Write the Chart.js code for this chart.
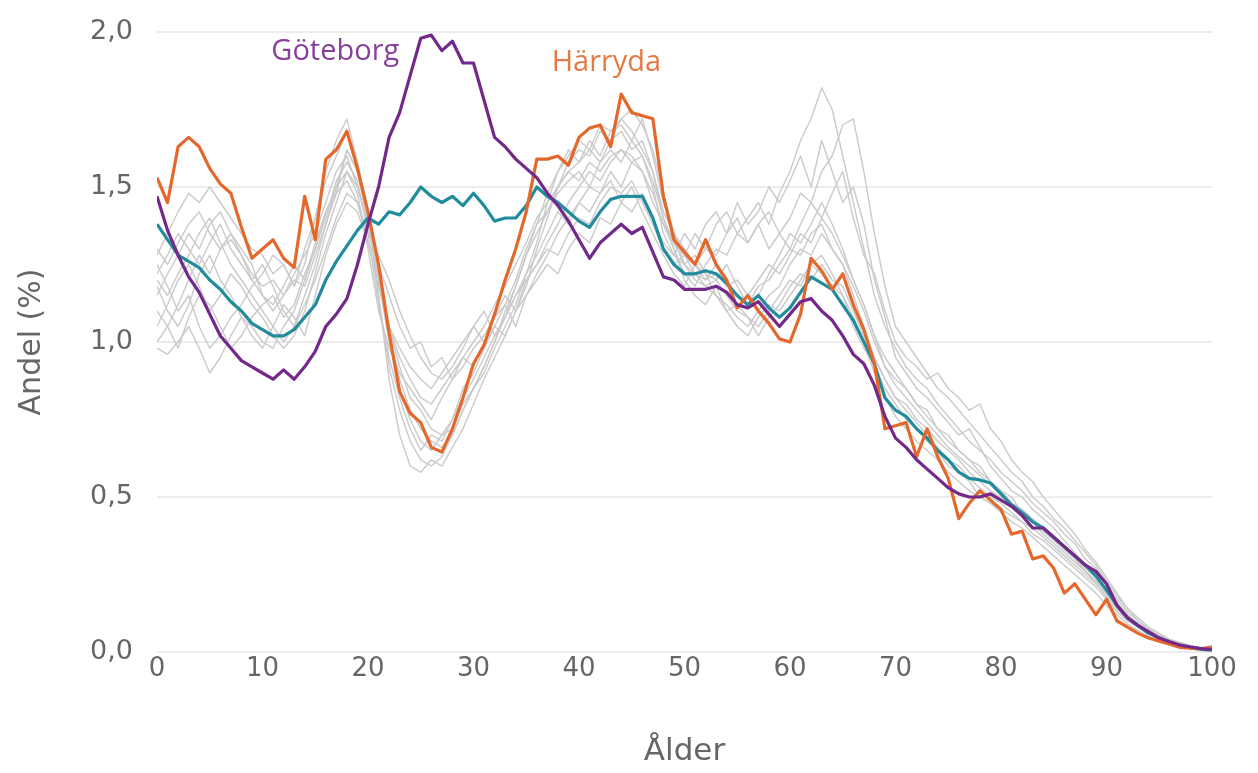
<!DOCTYPE html>
<html><head><meta charset="utf-8">
<script src="https://cdn.jsdelivr.net/npm/chart.js@4.4.0/dist/chart.umd.min.js"></script>
<style>html,body{margin:0;padding:0;background:#fff;} #wrap{width:1258px;height:773px;}</style>
</head><body><div id="wrap"><canvas id="c" width="1258" height="773"></canvas></div>
<script>
const ages = [0,1,2,3,4,5,6,7,8,9,10,11,12,13,14,15,16,17,18,19,20,21,22,23,24,25,26,27,28,29,30,31,32,33,34,35,36,37,38,39,40,41,42,43,44,45,46,47,48,49,50,51,52,53,54,55,56,57,58,59,60,61,62,63,64,65,66,67,68,69,70,71,72,73,74,75,76,77,78,79,80,81,82,83,84,85,86,87,88,89,90,91,92,93,94,95,96,97,98,99,100];
const xTickLabels = ['0','10','20','30','40','50','60','70','80','90','100'];
const yTickLabels = ['0,0','0,5','1,0','1,5','2,0'];

const goteborg = [1.47,1.36,1.28,1.21,1.16,1.09,1.02,0.98,0.94,0.92, 0.90,0.88,0.91,0.88,0.92,0.97,1.05,1.09,1.14,1.25, 1.38,1.50,1.66,1.74,1.86,1.98,1.99,1.94,1.97,1.90, 1.90,1.78,1.66,1.63,1.59,1.56,1.53,1.48,1.44,1.39, 1.33,1.27,1.32,1.35,1.38,1.35,1.37,1.29,1.21,1.20, 1.17,1.17,1.17,1.18,1.16,1.12,1.11,1.13,1.09,1.05, 1.09,1.13,1.14,1.10,1.07,1.02,0.96,0.93,0.86,0.76, 0.69,0.66,0.62,0.59,0.56,0.53,0.51,0.50,0.50,0.51, 0.49,0.47,0.44,0.40,0.40,0.37,0.34,0.31,0.28,0.26, 0.22,0.15,0.11,0.085,0.065,0.045,0.033,0.022,0.016,0.011,0.008];
const harryda = [1.53,1.45,1.63,1.66,1.63,1.56,1.51,1.48,1.37,1.27, 1.30,1.33,1.27,1.24,1.47,1.33,1.59,1.62,1.68,1.56, 1.42,1.25,1.03,0.84,0.77,0.74,0.66,0.645,0.72,0.82, 0.93,0.99,1.09,1.20,1.30,1.42,1.59,1.59,1.60,1.57, 1.66,1.69,1.70,1.63,1.80,1.74,1.73,1.72,1.47,1.33, 1.29,1.25,1.33,1.25,1.20,1.11,1.15,1.10,1.06,1.01, 1.00,1.09,1.27,1.23,1.17,1.22,1.12,1.04,0.93,0.72, 0.73,0.74,0.63,0.72,0.63,0.56,0.43,0.48,0.52,0.49, 0.46,0.38,0.39,0.30,0.31,0.27,0.19,0.22,0.17,0.12, 0.17,0.10,0.08,0.06,0.045,0.035,0.025,0.015,0.012,0.011,0.015];
const snitt = [1.38,1.33,1.28,1.26,1.24,1.20,1.17,1.13,1.10,1.06, 1.04,1.02,1.02,1.04,1.08,1.12,1.20,1.26,1.31,1.36, 1.40,1.38,1.42,1.41,1.45,1.50,1.47,1.45,1.47,1.44, 1.48,1.44,1.39,1.40,1.40,1.44,1.50,1.47,1.45,1.42, 1.39,1.37,1.42,1.46,1.47,1.47,1.47,1.40,1.30,1.25, 1.22,1.22,1.23,1.22,1.19,1.15,1.12,1.15,1.11,1.08, 1.11,1.16,1.21,1.19,1.17,1.12,1.07,1.00,0.93,0.82, 0.78,0.76,0.72,0.69,0.65,0.62,0.58,0.56,0.555,0.545, 0.51,0.475,0.45,0.42,0.40,0.37,0.34,0.31,0.28,0.245, 0.20,0.15,0.11,0.085,0.06,0.045,0.03,0.02,0.013,0.008,0.006];

const ovrig1 = [1.30,1.25,1.32,1.38,1.42,1.35,1.30,1.33,1.28,1.22, 1.18,1.20,1.15,1.22,1.28,1.35,1.45,1.55,1.60,1.50, 1.38,1.20,1.05,0.95,0.88,0.82,0.80,0.85,0.90,0.95, 1.00,1.05,1.12,1.18,1.25,1.32,1.40,1.45,1.50,1.55, 1.52,1.58,1.55,1.60,1.62,1.58,1.60,1.50,1.35,1.28, 1.25,1.22,1.20,1.25,1.18,1.15,1.12,1.18,1.20,1.25, 1.30,1.28,1.35,1.38,1.30,1.25,1.18,1.10,1.00,0.92, 0.88,0.85,0.80,0.78,0.72,0.70,0.65,0.62,0.60,0.55, 0.52,0.50,0.45,0.42,0.40,0.36,0.33,0.30,0.27,0.24, 0.20,0.16,0.12,0.09,0.07,0.05,0.035,0.025,0.015,0.01,0.01];
const ovrig2 = [0.98,0.96,1.00,1.05,0.98,0.90,0.95,1.02,1.08,1.05, 1.00,0.98,1.05,1.10,1.20,1.30,1.42,1.50,1.62,1.55, 1.40,1.15,0.92,0.78,0.68,0.62,0.60,0.63,0.70,0.78, 0.85,0.92,1.00,1.10,1.18,1.28,1.38,1.48,1.55,1.62, 1.58,1.65,1.60,1.68,1.70,1.65,1.72,1.60,1.45,1.35, 1.28,1.25,1.22,1.15,1.10,1.12,1.08,1.05,1.10,1.15, 1.20,1.18,1.25,1.22,1.18,1.15,1.05,0.98,0.92,0.85, 0.80,0.75,0.72,0.68,0.65,0.60,0.58,0.55,0.50,0.48, 0.46,0.44,0.42,0.38,0.36,0.33,0.30,0.27,0.24,0.21, 0.17,0.13,0.10,0.08,0.06,0.045,0.03,0.02,0.012,0.008,0.01];
const ovrig3 = [1.20,1.15,1.22,1.28,1.35,1.40,1.32,1.25,1.20,1.15, 1.10,1.05,1.00,1.05,1.12,1.20,1.30,1.40,1.48,1.45, 1.35,1.28,1.20,1.10,1.02,0.95,0.90,0.88,0.92,0.98, 1.05,1.00,1.08,1.15,1.10,1.20,1.25,1.30,1.28,1.35, 1.40,1.38,1.45,1.50,1.48,1.52,1.45,1.38,1.30,1.25, 1.28,1.35,1.30,1.38,1.42,1.35,1.40,1.45,1.38,1.48, 1.55,1.65,1.72,1.82,1.75,1.60,1.45,1.30,1.15,1.05, 0.98,0.92,0.88,0.85,0.80,0.76,0.72,0.68,0.65,0.62, 0.58,0.55,0.52,0.48,0.45,0.42,0.38,0.35,0.30,0.27, 0.22,0.17,0.13,0.10,0.07,0.05,0.035,0.025,0.015,0.01,0.02];
const ovrig4 = [1.10,1.05,1.12,1.20,1.28,1.22,1.30,1.35,1.28,1.20, 1.25,1.18,1.10,1.05,1.15,1.25,1.38,1.50,1.55,1.48, 1.30,1.10,0.98,0.90,0.85,0.80,0.75,0.82,0.88,0.95, 0.92,1.00,1.05,1.02,1.10,1.15,1.22,1.28,1.35,1.40, 1.45,1.42,1.48,1.55,1.50,1.58,1.55,1.45,1.38,1.30, 1.22,1.18,1.25,1.30,1.28,1.35,1.32,1.38,1.30,1.35, 1.40,1.48,1.45,1.55,1.60,1.70,1.72,1.55,1.35,1.18, 1.05,1.00,0.95,0.90,0.85,0.82,0.78,0.74,0.70,0.66, 0.62,0.58,0.55,0.50,0.47,0.43,0.40,0.36,0.32,0.28, 0.23,0.18,0.14,0.10,0.075,0.055,0.04,0.03,0.02,0.012,0.01];
const ovrig5 = [1.25,1.18,1.10,1.15,1.05,0.98,1.02,1.08,1.12,1.18, 1.22,1.28,1.25,1.18,1.30,1.40,1.52,1.60,1.68,1.58, 1.42,1.15,0.88,0.70,0.60,0.58,0.62,0.60,0.66,0.72, 0.80,0.88,0.95,1.02,1.10,1.18,1.30,1.40,1.50,1.58, 1.62,1.60,1.68,1.65,1.72,1.68,1.62,1.55,1.40,1.30, 1.20,1.15,1.12,1.18,1.10,1.05,1.02,1.08,1.12,1.10, 1.15,1.20,1.25,1.28,1.22,1.15,1.08,1.00,0.90,0.82, 0.76,0.72,0.68,0.65,0.62,0.58,0.55,0.52,0.50,0.48, 0.45,0.42,0.40,0.37,0.34,0.31,0.28,0.25,0.22,0.19, 0.15,0.12,0.09,0.07,0.05,0.035,0.025,0.018,0.012,0.008,0.006];
const ovrig6 = [1.15,1.22,1.28,1.35,1.30,1.38,1.42,1.35,1.30,1.25, 1.15,1.12,1.18,1.25,1.20,1.32,1.42,1.48,1.52,1.45, 1.32,1.18,1.05,0.98,0.92,0.88,0.85,0.90,0.95,1.00, 1.05,1.10,1.02,1.08,1.15,1.22,1.28,1.35,1.42,1.38, 1.45,1.50,1.48,1.52,1.45,1.50,1.42,1.35,1.28,1.22, 1.18,1.25,1.30,1.28,1.35,1.40,1.32,1.38,1.42,1.35, 1.30,1.38,1.45,1.40,1.48,1.55,1.40,1.28,1.22,1.10, 1.00,0.95,0.92,0.88,0.90,0.85,0.82,0.78,0.80,0.72, 0.68,0.62,0.58,0.55,0.50,0.46,0.42,0.38,0.33,0.29, 0.24,0.19,0.14,0.11,0.08,0.06,0.04,0.03,0.02,0.012,0.008];
const ovrig7 = [1.05,1.12,1.20,1.25,1.18,1.10,1.15,1.22,1.18,1.12, 1.08,1.02,0.98,1.02,1.10,1.22,1.35,1.45,1.55,1.50, 1.38,1.22,1.05,0.92,0.82,0.78,0.72,0.70,0.75,0.82, 0.88,0.95,1.02,1.08,1.15,1.20,1.25,1.32,1.38,1.45, 1.50,1.55,1.52,1.58,1.62,1.60,1.55,1.48,1.38,1.32, 1.28,1.22,1.18,1.15,1.12,1.08,1.05,1.10,1.15,1.18, 1.25,1.30,1.28,1.35,1.30,1.25,1.15,1.05,0.95,0.88, 0.82,0.80,0.75,0.72,0.68,0.65,0.62,0.58,0.55,0.52, 0.50,0.48,0.45,0.42,0.38,0.35,0.32,0.29,0.26,0.22, 0.18,0.14,0.11,0.08,0.06,0.04,0.03,0.02,0.015,0.01,0.012];
const ovrig8 = [1.28,1.35,1.42,1.48,1.45,1.50,1.45,1.40,1.35,1.30, 1.28,1.22,1.25,1.18,1.25,1.40,1.55,1.65,1.72,1.58, 1.40,1.20,1.00,0.85,0.75,0.68,0.65,0.70,0.72,0.80, 0.85,0.90,0.98,1.05,1.12,1.22,1.32,1.45,1.55,1.60, 1.65,1.62,1.70,1.68,1.72,1.75,1.70,1.62,1.48,1.35, 1.25,1.20,1.18,1.20,1.15,1.10,1.08,1.02,1.08,1.12, 1.18,1.22,1.20,1.25,1.20,1.18,1.10,1.02,0.95,0.88, 0.82,0.78,0.74,0.70,0.66,0.62,0.60,0.56,0.53,0.50, 0.48,0.45,0.42,0.40,0.37,0.34,0.31,0.28,0.25,0.22, 0.18,0.14,0.10,0.08,0.06,0.04,0.03,0.02,0.012,0.008,0.006];
const ovrig9 = [1.18,1.10,1.05,1.12,1.22,1.28,1.20,1.15,1.08,1.02, 0.98,1.05,1.12,1.08,1.02,1.15,1.28,1.38,1.45,1.42, 1.32,1.25,1.15,1.05,0.98,1.00,0.92,0.95,0.88,0.92, 0.98,1.02,1.08,1.12,1.05,1.15,1.20,1.25,1.22,1.30, 1.35,1.32,1.40,1.38,1.45,1.42,1.48,1.40,1.32,1.28, 1.35,1.30,1.38,1.42,1.35,1.45,1.38,1.42,1.50,1.45, 1.52,1.60,1.50,1.65,1.55,1.45,1.50,1.38,1.20,1.08, 0.95,0.90,0.85,0.82,0.78,0.74,0.70,0.72,0.66,0.60, 0.56,0.52,0.50,0.46,0.43,0.40,0.36,0.32,0.28,0.25, 0.20,0.15,0.12,0.09,0.07,0.05,0.035,0.025,0.018,0.012,0.02];
const ovrig10 = [1.00,1.05,0.98,1.08,1.15,1.12,1.05,0.98,1.02,1.08, 1.12,1.15,1.08,1.12,1.22,1.30,1.40,1.52,1.58,1.52, 1.35,1.12,0.95,0.82,0.72,0.65,0.70,0.68,0.75,0.85, 0.90,0.98,1.05,1.12,1.20,1.30,1.38,1.42,1.48,1.52, 1.55,1.50,1.58,1.62,1.58,1.65,1.60,1.52,1.40,1.32, 1.25,1.28,1.22,1.20,1.25,1.18,1.12,1.15,1.22,1.28, 1.35,1.32,1.38,1.45,1.38,1.30,1.20,1.12,1.02,0.95, 0.90,0.85,0.80,0.76,0.72,0.68,0.65,0.62,0.58,0.55, 0.52,0.48,0.46,0.43,0.40,0.37,0.34,0.30,0.26,0.23, 0.19,0.15,0.11,0.08,0.06,0.045,0.03,0.02,0.014,0.01,0.008];
const ovrig11 = [1.22,1.28,1.35,1.30,1.25,1.32,1.38,1.30,1.25,1.20, 1.15,1.10,1.15,1.20,1.18,1.28,1.38,1.48,1.62,1.55, 1.38,1.20,1.02,0.88,0.78,0.72,0.68,0.66,0.70,0.78, 0.85,0.92,1.00,1.08,1.18,1.28,1.35,1.42,1.50,1.55, 1.58,1.62,1.58,1.65,1.68,1.62,1.65,1.55,1.42,1.35, 1.30,1.25,1.20,1.22,1.18,1.20,1.15,1.20,1.25,1.22, 1.28,1.35,1.32,1.40,1.35,1.28,1.20,1.12,1.02,0.92, 0.86,0.82,0.78,0.74,0.70,0.66,0.63,0.60,0.57,0.54, 0.51,0.48,0.45,0.42,0.39,0.36,0.33,0.30,0.26,0.23, 0.19,0.15,0.11,0.08,0.06,0.045,0.03,0.02,0.014,0.01,0.01];
const ovriga = [ovrig1, ovrig2, ovrig3, ovrig4, ovrig5, ovrig6, ovrig7, ovrig8, ovrig9, ovrig10, ovrig11];

const seriesLabels = ['Göteborg', 'Härryda'];
const labelAges = [16.9, 42.6];
const labelValues = [1.935, 1.90];

const PURPLE = '#72298a', ORANGE = '#e4682c', TEAL = '#238c9c', GREY = '#cacaca';
const LABEL_COLORS = ['#87419b', '#e47a45'];
const FONT = '"DejaVu Sans", sans-serif';

const toPts = arr => ages.map((a, i) => ({x: a, y: arr[i]}));

const datasets = [
  {label: 'Göteborg', data: toPts(goteborg), borderColor: PURPLE, borderWidth: 3.2},
  {label: 'Härryda', data: toPts(harryda), borderColor: ORANGE, borderWidth: 3.2},
  {label: 'Göteborgsregionen', data: toPts(snitt), borderColor: TEAL, borderWidth: 3.2},
  ...ovriga.map((arr, k) => ({label: 'Kommun ' + (k + 1), data: toPts(arr), borderColor: GREY, borderWidth: 1.4}))
];
datasets.forEach(d => { d.pointRadius = 0; d.tension = 0; d.fill = false; d.borderJoinStyle = 'round'; });

const labelPlugin = {
  id: 'seriesLabels',
  afterDatasetsDraw(chart) {
    const {ctx, scales: {x, y}} = chart;
    ctx.save();
    ctx.font = '29px "Open Sans", sans-serif';
    ctx.textAlign = 'center';
    ctx.textBaseline = 'middle';
    seriesLabels.forEach((t, i) => {
      ctx.fillStyle = LABEL_COLORS[i];
      ctx.fillText(t, x.getPixelForValue(labelAges[i]), y.getPixelForValue(labelValues[i]));
    });
    ctx.restore();
  }
};

new Chart(document.getElementById('c'), {
  type: 'line',
  data: {datasets},
  plugins: [labelPlugin],
  options: {
    responsive: false,
    animation: false,
    events: [],
    layout: {padding: {left: 0, right: 46, top: 32, bottom: 0}},
    plugins: {legend: {display: false}, tooltip: {enabled: false}},
    scales: {
      x: {
        type: 'linear', min: 0, max: 100,
        afterFit: s => { s.height = 121; },
        grid: {display: false, drawTicks: false},
        border: {display: false},
        ticks: {stepSize: 10, padding: 2, color: '#666', font: {family: FONT, size: 26},
                callback: v => xTickLabels[Math.round(v / 10)]},
        title: {display: true, text: 'Ålder', color: '#666', font: {family: FONT, size: 31}, padding: {top: 0, bottom: 2}}
      },
      y: {
        min: 0, max: 2,
        afterFit: s => { s.width = 157; },
        grid: {color: '#ececec', lineWidth: 2, drawTicks: true, tickLength: 18, tickColor: 'rgba(0,0,0,0)'},
        border: {display: false},
        ticks: {stepSize: 0.5, padding: 6, color: '#666', font: {family: FONT, size: 27},
                callback: v => yTickLabels[Math.round(v / 0.5)]},
        title: {display: true, text: 'Andel (%)', color: '#666', font: {family: FONT, size: 30}, padding: {top: 14, bottom: 0}}
      }
    }
  }
});
</script></body></html>
